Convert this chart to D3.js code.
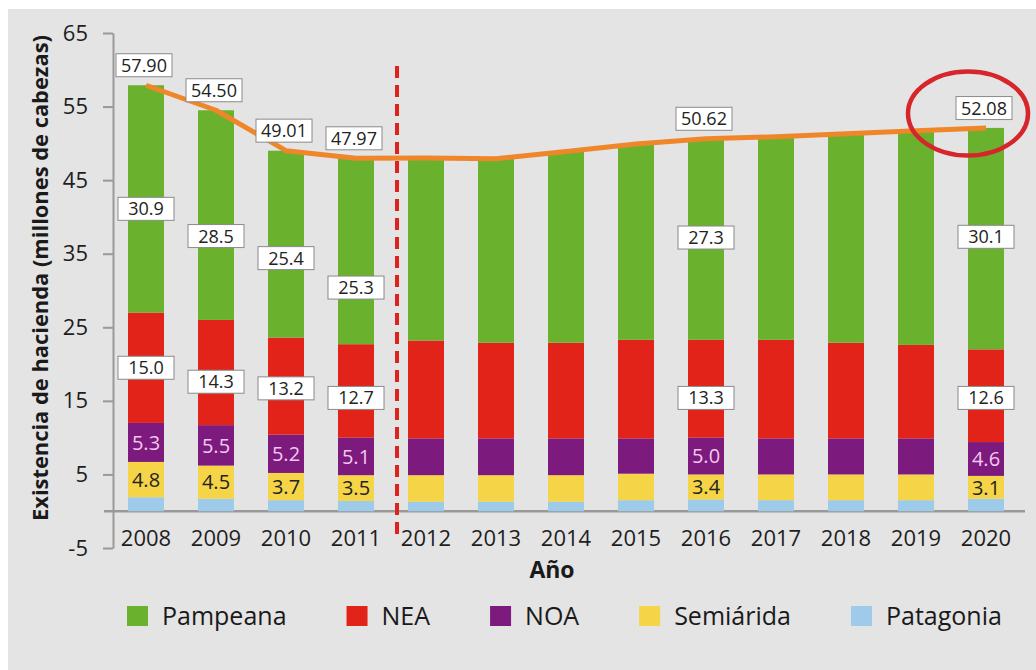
<!DOCTYPE html>
<html>
<head>
<meta charset="utf-8">
<script src="https://cdn.jsdelivr.net/npm/d3@7"></script>
<style>
  body { margin: 0; background: #fff; }
  svg { display: block; font-family: "Open Sans", "Noto Sans", sans-serif; }
</style>
</head>
<body>
<div id="chart"></div>
<script>
// Existencia de hacienda por región, 2008-2020 (barras apiladas + total)
const years = ["2008", "2009", "2010", "2011", "2012", "2013", "2014", "2015", "2016", "2017", "2018", "2019", "2020"];
const patagonia = [1.9, 1.7, 1.5, 1.4, 1.3, 1.3, 1.3, 1.5, 1.6, 1.5, 1.5, 1.5, 1.7];
const semiarida = [4.8, 4.5, 3.7, 3.5, 3.6, 3.6, 3.6, 3.6, 3.4, 3.5, 3.5, 3.5, 3.1];
const noa = [5.3, 5.5, 5.2, 5.1, 5.0, 5.0, 5.0, 4.8, 5.0, 4.9, 4.9, 4.9, 4.6];
const nea = [15.0, 14.3, 13.2, 12.7, 13.3, 13.0, 13.0, 13.4, 13.3, 13.4, 13.0, 12.7, 12.6];
const pampeana = [30.9, 28.5, 25.4, 25.3, 24.8, 25.0, 26.0, 26.6, 27.3, 27.6, 28.4, 29.1, 30.1];
const totals = [57.90, 54.50, 49.01, 47.97, 48.0, 47.9, 48.9, 49.9, 50.62, 50.9, 51.3, 51.7, 52.08];
const labelledYears = ["2008", "2009", "2010", "2011", "2016", "2020"];
const totalLabelYears = ["2008", "2009", "2010", "2011", "2016", "2020"];
// where the boxed labels sit (value units), they are not all at the segment middle
const pampLabelAt = [41.1, 37.4, 34.4, 30.4, 37.2, 37.3];
const neaLabelAt = [19.5, 17.6, 16.7, 15.4, 15.4, 15.4];
const yTicks = [-5, 5, 15, 25, 35, 45, 55, 65];
const regions = ["Pampeana", "NEA", "NOA", "Semiárida", "Patagonia"];

const colors = {
  Pampeana: "#6ab22e", NEA: "#e2231a", NOA: "#7d1a7e", "Semiárida": "#f5d547", Patagonia: "#9ecbea"
};

const W = 1036, H = 670;
const svg = d3.select("#chart").append("svg").attr("width", W).attr("height", H);
svg.append("rect").attr("x", 8).attr("y", 9).attr("width", W - 8).attr("height", H - 9).attr("fill", "#e4e4e4");

const x = d3.scaleBand().domain(years).range([111, 1021]).paddingInner(0.486).paddingOuter(0.243);
const y = d3.scaleLinear().domain([-5, 65]).range([548, 33]);
const bw = x.bandwidth();
const cx = (yr) => x(yr) + bw / 2;

// stacked data, bottom to top
const rows = years.map((yr, i) => ({
  year: yr, Patagonia: patagonia[i], "Semiárida": semiarida[i], NOA: noa[i], NEA: nea[i], Pampeana: pampeana[i]
}));
const stack = d3.stack().keys(["Patagonia", "Semiárida", "NOA", "NEA", "Pampeana"])(rows);

// axes
const gy = svg.append("g").attr("transform", "translate(113,0)")
  .call(d3.axisLeft(y).tickValues(yTicks).tickFormat((d) => String(d))
    .tickSize(10).tickPadding(15).tickSizeOuter(0));
gy.select(".domain").attr("stroke", "#999").attr("stroke-width", 2);
gy.selectAll(".tick line").attr("stroke", "#999").attr("stroke-width", 2);
gy.selectAll(".tick text").attr("font-size", 22).attr("fill", "#1e1e1e").attr("font-family", "Open Sans");

svg.append("line").attr("x1", 104).attr("x2", 1025).attr("y1", y(0)).attr("y2", y(0))
  .attr("stroke", "#999").attr("stroke-width", 2.5);

const gx = svg.append("g").attr("transform", `translate(0,${y(0)})`)
  .call(d3.axisBottom(x).tickSize(0).tickPadding(19));
gx.select(".domain").remove();
gx.selectAll(".tick text").attr("font-size", 22).attr("fill", "#1e1e1e").attr("font-family", "Open Sans");

// bars
svg.append("g").selectAll("g").data(stack).join("g")
  .attr("fill", (d) => colors[d.key])
  .selectAll("rect").data((d) => d).join("rect")
  .attr("x", (d) => x(d.data.year)).attr("width", bw)
  .attr("y", (d) => y(d[1])).attr("height", (d) => y(d[0]) - y(d[1]));

// dashed divider between 2011 and 2012
svg.append("line")
  .attr("x1", x("2012") - 11).attr("x2", x("2012") - 11)
  .attr("y1", y(60.5)).attr("y2", y(-3.3))
  .attr("stroke", "#e0221c").attr("stroke-width", 4).attr("stroke-dasharray", "12,7");

// total line
const line = d3.line().x((d, i) => cx(years[i])).y((d) => y(d));
svg.append("path").datum(totals).attr("d", line)
  .attr("fill", "none").attr("stroke", "#f0862a").attr("stroke-width", 5).attr("stroke-linejoin", "round");

function boxLabel(px, py, txt) {
  const g = svg.append("g").attr("transform", `translate(${px},${py})`);
  g.append("rect").attr("x", -28).attr("y", -11.5).attr("width", 56).attr("height", 23)
    .attr("fill", "#fff").attr("stroke", "#8a8a8a").attr("stroke-width", 1);
  g.append("text").attr("text-anchor", "middle").attr("dy", "0.36em")
    .attr("font-size", 18).attr("fill", "#222").text(txt);
}

function plainLabel(px, py, txt, fill) {
  svg.append("text").attr("x", px).attr("y", py).attr("text-anchor", "middle").attr("dy", "0.36em")
    .attr("font-size", 20).attr("fill", fill).text(txt);
}

labelledYears.forEach((yr, k) => {
  const i = years.indexOf(yr);
  const below = patagonia[i];
  plainLabel(cx(yr), y(below + semiarida[i] / 2), semiarida[i].toFixed(1), "#222");
  plainLabel(cx(yr), y(below + semiarida[i] + noa[i] / 2), noa[i].toFixed(1), "#f3c9ef");
  boxLabel(cx(yr), y(neaLabelAt[k]), nea[i].toFixed(1));
  boxLabel(cx(yr), y(pampLabelAt[k]), pampeana[i].toFixed(1));
});

totalLabelYears.forEach((yr) => {
  const i = years.indexOf(yr);
  boxLabel(cx(yr) - 2, y(totals[i]) - 20, totals[i].toFixed(2));
});

// highlight ring on the last value
const last = years.length - 1;
svg.append("ellipse")
  .attr("cx", cx(years[last]) - 18).attr("cy", y(totals[last]) - 14.5)
  .attr("rx", 60).attr("ry", 42)
  .attr("fill", "none").attr("stroke", "#d7262b").attr("stroke-width", 4.5);

// axis titles
svg.append("text").attr("transform", "translate(40,278) rotate(-90)")
  .attr("text-anchor", "middle").attr("dy", "0.36em")
  .attr("font-size", 22).attr("font-weight", "bold").attr("fill", "#1a1a1a")
  .attr("textLength", 486).attr("lengthAdjust", "spacingAndGlyphs")
  .text("Existencia de hacienda (millones de cabezas)");

svg.append("text").attr("x", 552).attr("y", 570).attr("text-anchor", "middle").attr("dy", "0.36em")
  .attr("font-size", 23).attr("font-weight", "bold").attr("fill", "#1a1a1a").text("Año");

// legend
const lg = svg.append("g").attr("transform", "translate(127,616)");
let lx = 0;
regions.forEach((r) => {
  lg.append("rect").attr("x", lx).attr("y", -10).attr("width", 21).attr("height", 20).attr("fill", colors[r]);
  const t = lg.append("text").attr("x", lx + 35).attr("dy", "0.36em")
    .attr("font-size", 25).attr("fill", "#1a1a1a").text(r);
  lx += 35 + t.node().getComputedTextLength() + 60;
});
</script>
</body>
</html>
